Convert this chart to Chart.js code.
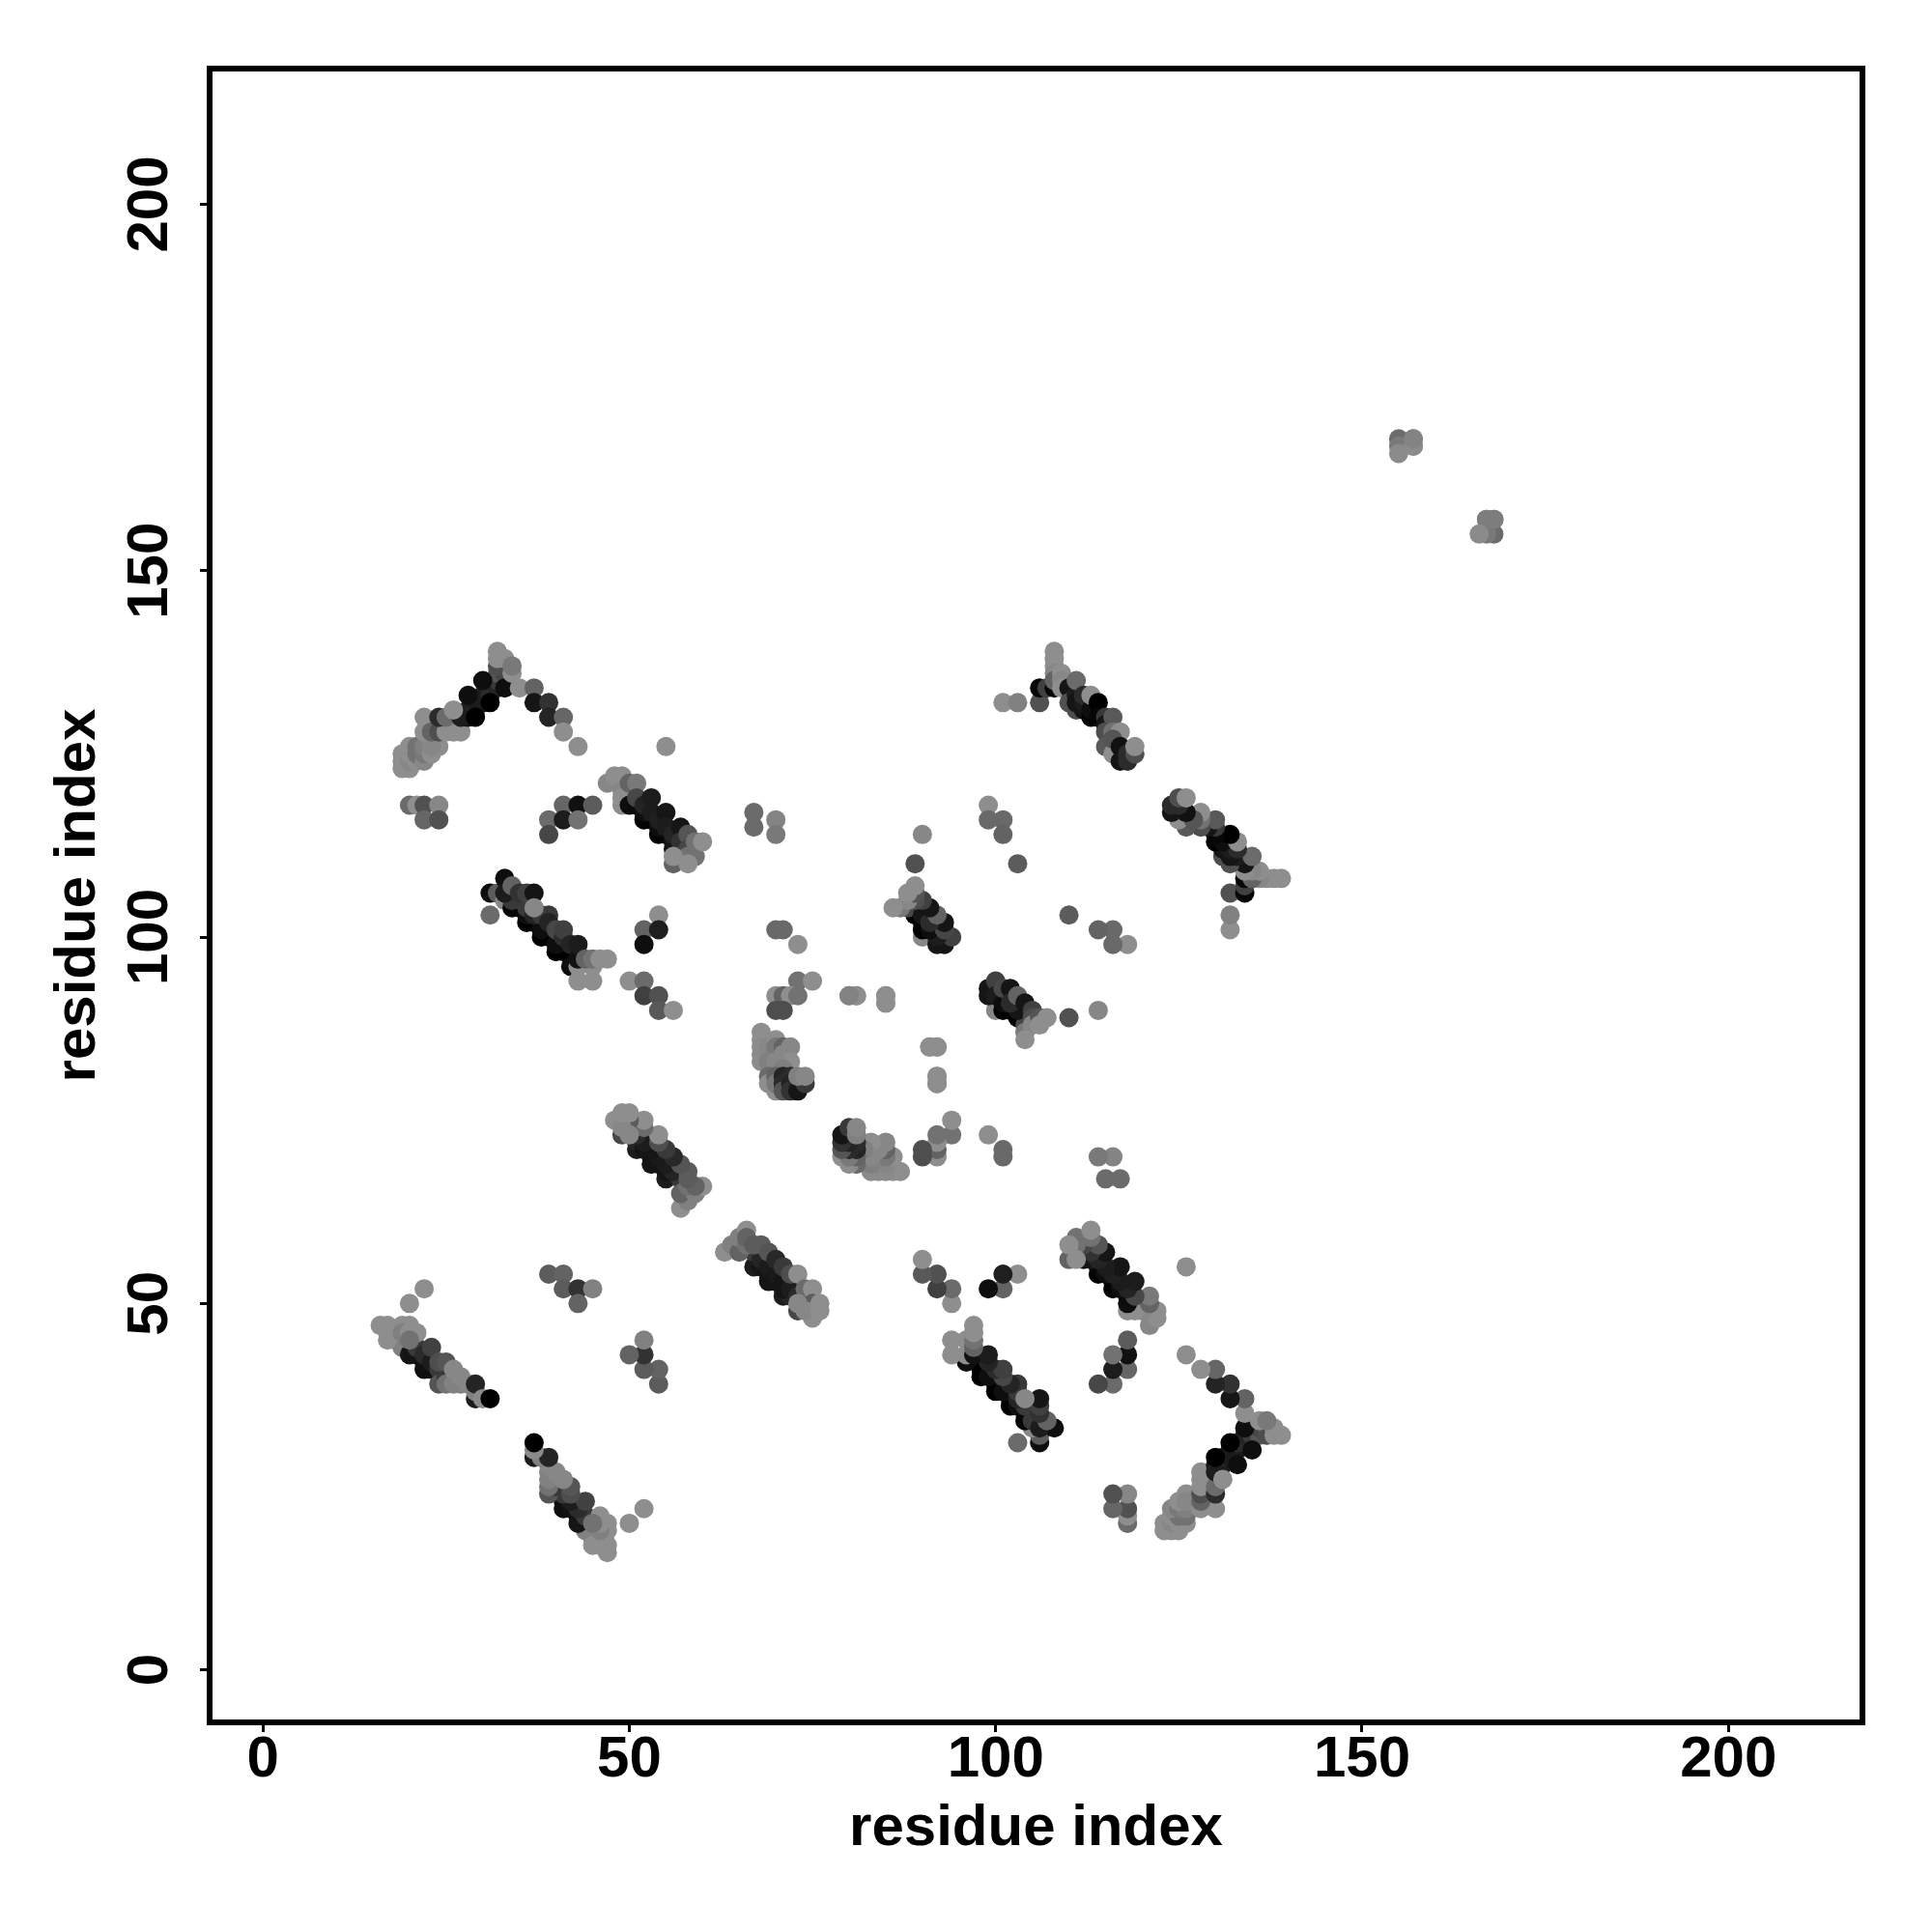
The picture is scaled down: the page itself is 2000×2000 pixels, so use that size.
<!DOCTYPE html>
<html>
<head>
<meta charset="utf-8">
<title>residue contact map</title>
<script src="https://cdn.jsdelivr.net/npm/chart.js@4"></script>
<style>
  html, body { margin: 0; padding: 0; background: #fff; }
  #wrap { width: 2000px; height: 2000px; }
</style>
</head>
<body>
<div id="wrap"><canvas id="contactChart" width="2000" height="2000"></canvas></div>
<script>
// every entry is [residue x, residue y, contact score 0-100].
// the map is symmetric so only one half is listed, the other half is the same list flipped.
var tickValues = [0, 50, 100, 150, 200];
var axisLabel = "residue index";

var farPair = [[155,168,25],[155,167,15],[157,168,12],[157,167,12],[155,166,2],[167,157,2],[168,157,8]];

var strandA = [
  [22,52,0],[20,50,0],[19,44,9],[18,45,9],[20,43,85],[21,43,85],[22,41,90],[23,41,90],[22,42,88],
  [21,44,60],[22,43,70],[23,42,80],[24,41,60],[24,39,40],[25,40,60],[25,39,20],[26,39,9],[27,39,9],
  [16,47,0],[17,47,0],[17,46,0],[17,45,0],[18,46,0],[19,47,0],[20,47,0],[19,46,10],[20,46,0],[21,46,0],[20,45,20],
  [23,44,54],[24,42,45],[25,42,40],[26,41,5],[27,40,5],[28,39,5],[29,37,80],[29,38,10],[29,39,75],[30,37,3],[31,37,100]
];

var patchB = [[39,54,35],[41,54,30],[41,52,35],[43,52,65],[45,52,9],[43,50,30]];

var strandC = [
  [67,55,80],[68,55,85],[69,53,85],[70,53,85],[71,51,80],[72,51,75],[73,49,50],[69,54,85],[71,52,85],
  [67,57,60],[68,56,75],[69,55,80],[70,54,82],[71,53,85],[72,52,80],[73,51,70],[74,50,55],
  [63,57,0],[64,58,10],[65,57,30],[65,59,10],[66,58,20],[66,60,0],[66,59,30],[67,58,35],[68,58,35],[69,57,40],
  [70,56,72],[71,55,60],[72,54,45],[73,54,0],[74,52,25],[75,52,0],[75,50,35],[75,48,0],[74,49,5],[73,50,5],[76,50,0],[76,49,0]
];

var hairpinD = [
  [19,125,0],[19,124,0],[19,123,0],[20,123,0],[20,124,5],[20,125,0],[20,126,0],[21,124,0],[21,125,20],[21,126,20],
  [22,124,5],[22,125,15],[22,126,10],[23,125,0],[24,126,0],[23,126,5],
  [22,130,0],[22,128,0],[23,128,30],[24,128,45],[25,128,0],[26,128,0],[27,128,0],
  [28,130,85],[28,131,80],[29,131,70],[29,132,80],[30,132,80],[30,133,80],[31,133,70],[31,134,70],
  [32,134,75],[32,135,60],[33,135,70],[32,136,40],[33,136,50],[32,137,45],
  [24,130,70],[25,130,25],[27,130,80],[26,131,0],[28,133,90],[30,135,90],[29,130,100],[31,132,100],[33,134,90],
  [32,138,0],[32,139,0],[33,138,0],[34,136,0],[34,137,15],[35,134,0],[37,134,30],[37,132,85],[39,132,65],[39,130,75],
  [41,130,28],[41,128,0],[43,126,0],[55,126,0]
];

var patchE = [[20,118,25],[21,118,0],[22,118,43],[24,118,5],[22,116,28],[24,116,43],[39,116,25],[41,118,28],[43,118,88],[45,118,35],[41,116,80],[43,116,20],[39,114,50]];

var strandF = [
  [47,121,5],[48,122,0],[49,122,0],[49,120,5],[49,119,0],[49,118,0],[50,121,30],[51,121,15],
  [50,118,90],[51,118,92],[52,116,98],[53,116,98],[54,114,100],[55,114,95],[56,112,90],[57,112,60],[52,117,90],[54,115,90],[56,113,85],
  [51,119,50],[52,118,75],[53,119,80],[53,117,80],[54,116,78],[55,117,85],[55,115,80],[56,114,75],[57,115,85],[57,113,65],
  [58,114,40],[56,110,30],[58,112,50],[59,111,20],[58,111,20],[56,111,0],[58,110,0],[59,113,20],[60,113,0]
];

var strandG = [
  [31,106,90],[32,106,35],[31,103,25],[33,105,5],[33,108,90],
  [34,104,95],[35,104,95],[36,102,100],[37,102,100],[38,100,100],[39,100,100],[40,98,100],[41,98,100],[42,96,90],[36,103,90],[38,101,90],[40,99,90],
  [34,105,60],[36,104,60],[37,103,75],[38,103,60],[39,103,60],[39,102,75],[40,101,50],[41,100,70],[41,101,55],[42,99,75],
  [33,106,80],[34,107,30],[35,106,65],[36,106,55],[37,106,85],[37,104,5],[43,96,0],[45,96,0],[43,94,0],[45,94,0],
  [43,97,88],[43,99,80],[44,97,30],[45,97,20],[46,97,0],[47,97,0]
];

var patchH = [[54,103,0],[52,101,30],[54,101,78],[52,99,90],[50,94,0],[52,94,25],[52,92,55],[54,92,43],[54,90,37],[56,90,0]];

var patchI = [[73,94,20],[75,94,0],[70,92,0],[71,92,30],[72,92,0],[73,92,20],[70,90,45],[71,90,45],[80,92,0],[81,92,0],[85,92,0],[85,91,0],[91,85,0],[92,85,0],[92,81,0],[92,80,8],[73,99,0],[70,101,26],[71,101,26]];

var clusterJ = [
  [68,87,0],[68,86,0],[68,85,2],[68,84,2],[68,83,2],[69,84,5],[69,85,5],[70,84,5],[70,86,0],[70,85,15],[71,85,30],[71,84,5],[71,83,5],[72,85,5],[72,83,0],[69,83,10],[70,83,5],[71,82,10],
  [69,81,25],[69,80,0],[70,79,0],[70,81,30],[70,80,15],[71,81,75],[71,80,70],[71,79,40],[72,81,70],[72,80,75],[72,79,65],[73,80,70],[73,79,85],[74,80,60],[73,81,10],[74,81,5]
];

var strandK = [
  [100,90,5],[99,93,85],[99,92,85],[100,94,55],[100,92,80],[101,90,100],[102,90,100],[103,89,100],[104,88,50],[101,91,90],[103,90,85],
  [101,93,50],[102,93,85],[102,91,70],[103,92,30],[104,91,85],[105,90,55],[105,89,45],[104,87,15],[105,88,5],[106,89,40],[106,88,0],[107,89,0],[104,86,0]
];

var patchL = [[89,110,43],[90,114,5],[103,110,35],[99,118,0],[99,116,26],[101,116,26],[101,114,30],[67,117,25],[67,115,25],[70,116,7],[70,114,15]];

var strandM = [
  [101,132,0],[103,132,9],[106,132,43],[106,134,95],[107,134,55],[108,134,95],
  [108,139,0],[108,138,0],[108,137,0],[108,136,5],[108,135,30],[109,136,0],[109,135,5],[109,134,0],[110,134,85],[110,132,43],
  [111,133,80],[111,131,45],[111,132,85],[111,135,25],[112,131,85],[112,132,80],[112,133,70],[113,130,100],[113,131,90],[113,133,0],[114,132,100],
  [114,130,95],[115,130,60],[115,129,85],[116,130,37],[115,128,45],[116,128,20],[117,128,0],[115,126,37],[116,125,0],
  [116,127,40],[117,126,88],[117,124,85],[118,124,70],[118,125,70],[119,125,45],[119,126,0]
];

var halfMap = [].concat(patchB, patchE, patchH, patchI, patchL, farPair, strandA, strandC, hairpinD, strandF, strandG, clusterJ, strandK, strandM);

function shade(score) {
  var g = Math.round(142 * (1 - score / 100));
  return "rgb(" + g + "," + g + "," + g + ")";
}

var points = [], colors = [];
halfMap.forEach(function (c) {
  points.push({ x: c[0], y: c[1] });
  colors.push(shade(c[2]));
});
halfMap.forEach(function (c) {
  points.push({ x: c[1], y: c[0] });
  colors.push(shade(c[2]));
});

var labelFont = 'bold 60px "Liberation Sans", Arial, sans-serif';

// frame round the plot and the y tick labels, which R writes turned and centred on the tick
var framePlugin = {
  id: "frame",
  afterDraw: function (chart) {
    var c = chart.ctx, a = chart.chartArea, ys = chart.scales.y;
    c.save();
    c.strokeStyle = "#000";
    c.lineWidth = 6;
    c.strokeRect(a.left, a.top, a.right - a.left, a.bottom - a.top);
    c.fillStyle = "#000";
    c.font = labelFont;
    c.textAlign = "center";
    c.textBaseline = "alphabetic";
    tickValues.forEach(function (v) {
      c.save();
      c.translate(173, ys.getPixelForValue(v));
      c.rotate(-Math.PI / 2);
      c.fillText(String(v), 0, 0);
      c.restore();
    });
    c.restore();
  },
};

function setTicks(scale) {
  scale.ticks = tickValues.map(function (v) {
    return { value: v };
  });
}

new Chart(document.getElementById("contactChart"), {
  type: "scatter",
  data: {
    datasets: [
      {
        label: "contacts",
        data: points,
        pointRadius: 10,
        pointHoverRadius: 10,
        pointBorderWidth: 0,
        pointBackgroundColor: colors,
      },
    ],
  },
  options: {
    responsive: false,
    animation: false,
    layout: { padding: { top: 71, right: 72, left: 0, bottom: 0 } },
    plugins: { legend: { display: false }, tooltip: { enabled: false } },
    scales: {
      x: {
        type: "linear",
        min: -7.28,
        max: 218.3,
        afterBuildTicks: setTicks,
        afterFit: function (s) {
          s.height = 2000 - 1783;
        },
        border: { display: false },
        grid: { drawOnChartArea: false, drawTicks: true, tickLength: 10, tickWidth: 3, tickColor: "#000" },
        ticks: { color: "#000", font: { family: '"Liberation Sans"', size: 60, weight: "bold" }, padding: -7, maxRotation: 0, minRotation: 0 },
        title: { display: true, text: axisLabel, color: "#000", font: { family: '"Liberation Sans"', size: 60, weight: "bold" }, padding: { top: 0, bottom: 71 } },
      },
      y: {
        type: "linear",
        min: -7.17,
        max: 218.52,
        afterBuildTicks: setTicks,
        afterFit: function (s) {
          s.width = 217;
        },
        border: { display: false },
        grid: { drawOnChartArea: false, drawTicks: true, tickLength: 10, tickWidth: 3, tickColor: "#000" },
        ticks: { display: false },
        title: { display: true, text: axisLabel, color: "#000", font: { family: '"Liberation Sans"', size: 60, weight: "bold" }, padding: { top: 45, bottom: 0 } },
      },
    },
  },
  plugins: [framePlugin],
});
</script>
</body>
</html>
